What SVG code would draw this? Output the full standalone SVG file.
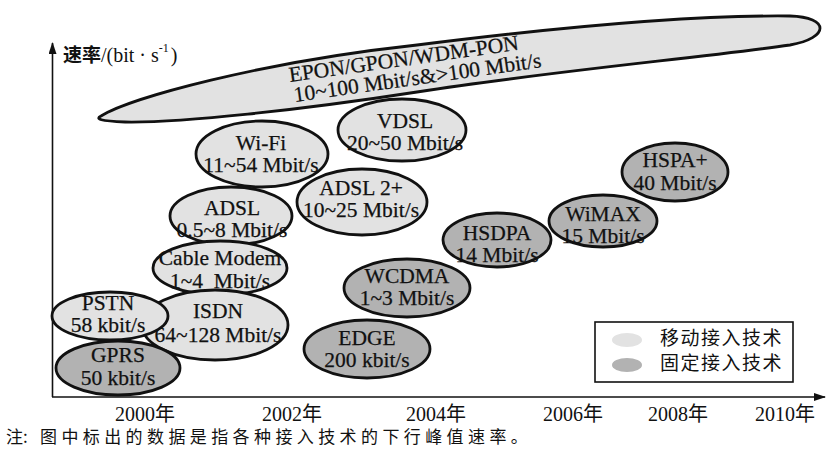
<svg xmlns="http://www.w3.org/2000/svg" width="826" height="454" viewBox="0 0 826 454">
  <style>
    .bg { fill: #ffffff; }
    .axis { stroke: #111; stroke-width: 1.6; fill: none; }
    .tech { stroke: #111; stroke-width: 2.8; stroke-linejoin: round; }
    .light { fill: #e2e2e2; }
    .dark { fill: #b2b2b2; }
    .lbl { font-family: "Liberation Serif", "Noto Sans CJK SC", serif; font-size: 21.5px; fill: #111; stroke: #111; stroke-width: 0.25; text-anchor: middle; }
    .year { font-family: "Liberation Serif", "Noto Sans CJK SC", serif; font-size: 20px; fill: #111; }
    .cjk { font-family: "Noto Sans CJK SC", sans-serif; fill: #111; }
    .legend-box { fill: #fff; stroke: #111; stroke-width: 1.6; }
  </style>
  <defs>
    <marker id="arrow" viewBox="0 0 12 8" refX="11" refY="4" markerWidth="12" markerHeight="8" markerUnits="userSpaceOnUse" orient="auto">
      <path d="M0,0 L12,4 L0,8 Z" fill="#111"/>
    </marker>
  </defs>

  <rect class="bg" x="0" y="0" width="826" height="454"/>

  <!-- axes -->
  <g id="connectors">
    <line class="axis" x1="52.5" y1="397" x2="52.5" y2="43" marker-end="url(#arrow)"/>
    <line class="axis" x1="52" y1="397" x2="825" y2="397" marker-end="url(#arrow)"/>
  </g>

  <!-- y axis title -->
  <text id="y-title" y="62" font-size="20" fill="#111">
    <tspan class="cjk" x="63" font-size="19" font-weight="bold">速率</tspan><tspan font-family="Liberation Serif, serif" x="101">/(bit · s</tspan><tspan font-family="Liberation Serif, serif" font-size="12" y="52">-1</tspan><tspan font-family="Liberation Serif, serif" y="62" dx="2">)</tspan>
  </text>

  <!-- passive optical networks: long tilted oval -->
  <g id="node-pon">
    <path class="tech light" d="M101,116 C130,98 260,62 417,45 C560,27 700,15 790,16 C830,17 830,38 790,45 C700,58 560,70 417,92 C300,110 180,123 125,122 C100,121 95,119 101,116 Z"/>
    <text class="lbl" transform="rotate(-8 411 75)"><tspan x="406" y="65">EPON/GPON/WDM-PON</tspan><tspan x="417" y="85.5">10~100 Mbit/s&amp;&gt;100 Mbit/s</tspan></text>
  </g>

  <g id="node-wifi">
    <ellipse class="tech light" cx="262" cy="154" rx="66" ry="33"/>
    <text class="lbl"><tspan x="261" y="150">Wi-Fi</tspan><tspan x="261" y="172">11~54 Mbit/s</tspan></text>
  </g>

  <g id="node-vdsl">
    <ellipse class="tech light" cx="402" cy="130" rx="64" ry="31"/>
    <text class="lbl"><tspan x="405" y="128">VDSL</tspan><tspan x="405" y="150">20~50 Mbit/s</tspan></text>
  </g>

  <g id="node-adsl2">
    <ellipse class="tech light" cx="362" cy="202" rx="65" ry="33"/>
    <text class="lbl"><tspan x="361" y="195">ADSL 2+</tspan><tspan x="361" y="217">10~25 Mbit/s</tspan></text>
  </g>

  <g id="node-adsl">
    <ellipse class="tech light" cx="231" cy="216" rx="61" ry="29"/>
    <text class="lbl"><tspan x="232" y="215">ADSL</tspan><tspan x="232" y="237">0.5~8 Mbit/s</tspan></text>
  </g>

  <g id="node-cable">
    <ellipse class="tech light" cx="220" cy="268" rx="67" ry="27"/>
    <text class="lbl"><tspan x="220" y="265">Cable Modem</tspan><tspan x="220" y="288">1~4&#160; Mbit/s</tspan></text>
  </g>

  <g id="node-isdn">
    <ellipse class="tech light" cx="215" cy="325" rx="73" ry="35"/>
    <text class="lbl"><tspan x="218" y="318">ISDN</tspan><tspan x="218" y="342">64~128 Mbit/s</tspan></text>
  </g>

  <g id="node-gprs">
    <ellipse class="tech dark" cx="118" cy="368" rx="62" ry="27"/>
    <text class="lbl"><tspan x="118" y="362">GPRS</tspan><tspan x="118" y="385">50 kbit/s</tspan></text>
  </g>

  <g id="node-pstn">
    <ellipse class="tech light" cx="110" cy="316" rx="58" ry="24"/>
    <text class="lbl"><tspan x="108" y="310">PSTN</tspan><tspan x="108" y="332">58 kbit/s</tspan></text>
  </g>

  <g id="node-edge">
    <ellipse class="tech dark" cx="367" cy="349" rx="63" ry="29"/>
    <text class="lbl"><tspan x="367" y="345">EDGE</tspan><tspan x="367" y="367">200 kbit/s</tspan></text>
  </g>

  <g id="node-wcdma">
    <ellipse class="tech dark" cx="407" cy="288" rx="63" ry="29"/>
    <text class="lbl"><tspan x="407" y="283">WCDMA</tspan><tspan x="407" y="305">1~3 Mbit/s</tspan></text>
  </g>

  <g id="node-hsdpa">
    <ellipse class="tech dark" cx="497" cy="240" rx="54" ry="27"/>
    <text class="lbl"><tspan x="497" y="240">HSDPA</tspan><tspan x="497" y="262">14 Mbit/s</tspan></text>
  </g>

  <g id="node-wimax">
    <ellipse class="tech dark" cx="603" cy="221" rx="54" ry="26"/>
    <text class="lbl"><tspan x="603" y="221">WiMAX</tspan><tspan x="603" y="243">15 Mbit/s</tspan></text>
  </g>

  <g id="node-hspa">
    <ellipse class="tech dark" cx="675" cy="172" rx="53" ry="29"/>
    <text class="lbl"><tspan x="675" y="167">HSPA+</tspan><tspan x="675" y="190">40 Mbit/s</tspan></text>
  </g>

  <!-- legend -->
  <g id="legend">
    <rect class="legend-box" x="595" y="322" width="198" height="60"/>
    <ellipse class="light" cx="627" cy="340" rx="15" ry="7"/>
    <ellipse class="dark" cx="627" cy="365" rx="15" ry="7"/>
    <text class="cjk" font-size="19" letter-spacing="1.5"><tspan x="660" y="345">移动接入技术</tspan><tspan x="660" y="370">固定接入技术</tspan></text>
  </g>

  <!-- time axis labels -->
  <g id="years">
    <text class="year" x="115" y="421">2000年</text>
    <text class="year" x="262" y="421">2002年</text>
    <text class="year" x="406" y="421">2004年</text>
    <text class="year" x="543" y="421">2006年</text>
    <text class="year" x="648" y="421">2008年</text>
    <text class="year" x="755" y="421">2010年</text>
  </g>

  <!-- footnote -->
  <text id="note" class="cjk" y="443" font-size="17">
    <tspan x="6">注:</tspan><tspan x="40" letter-spacing="4.4">图中标出的数据是指各种接入技术的下行峰值速率。</tspan>
  </text>
</svg>
